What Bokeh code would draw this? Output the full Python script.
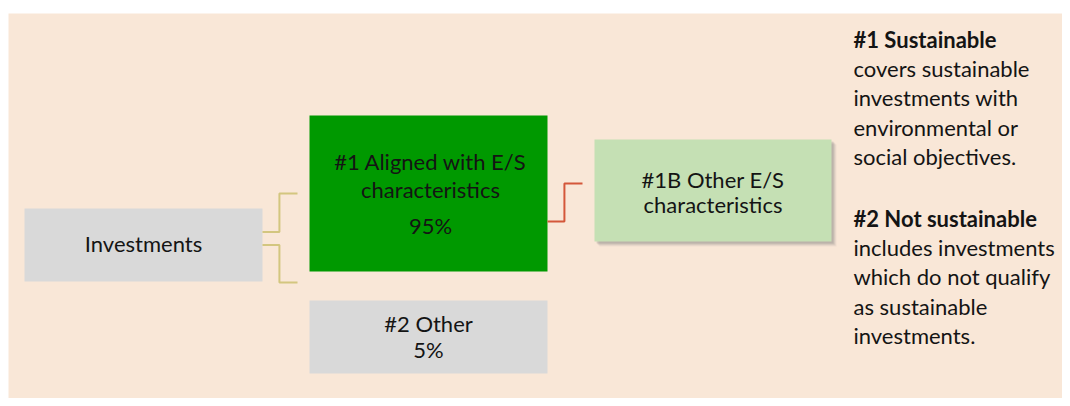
from bokeh.plotting import figure
from bokeh.models import Range1d
from bokeh.core.properties import value
from bokeh.embed import file_html
from bokeh.resources import INLINE

# ---------------- data ----------------
root_label = "Investments"
aligned_label = ["#1 Aligned with E/S", "characteristics"]
aligned_share = 95
other_label = "#2 Other"
other_share = 5
other_es_label = ["#1B Other E/S", "characteristics"]
note_heads = ["#1 Sustainable", "#2 Not sustainable"]
note_bodies = [
    ["covers sustainable", "investments with", "environmental or", "social objectives."],
    ["includes investments", "which do not qualify", "as sustainable", "investments."],
]

# ---------------- layout (image pixel coords, y downwards) ----------------
W, H = 1062, 398
BG = (8, 13, W, H)
BOX = {
    "root": (24, 208, 262, 281),
    "aligned": (309, 115, 547, 271),
    "other": (309, 300, 547, 373),
    "other_es": (594, 139, 831, 241),
}
FONT = value("Lato")
FS = "22px"
TXT = "#141414"
DY = -8  # baseline correction

p = figure(width=W, height=H, x_range=Range1d(0, W), y_range=Range1d(H, 0),
           output_backend="svg", toolbar_location=None, min_border=0,
           x_axis_type=None, y_axis_type=None, outline_line_color=None,
           background_fill_color="white", border_fill_color="white")
p.grid.visible = False

# background panel
p.quad(left=[BG[0]], right=[BG[2]], top=[BG[1]], bottom=[BG[3]],
       fill_color="#F9E7D7", line_color=None)

# soft shadow for the light green box
l, t, r, b = BOX["other_es"]
for d, a in [(5, 0.08), (4, 0.12), (3, 0.18), (2, 0.2)]:
    p.quad(left=[l + d], right=[r + d], top=[t + d], bottom=[b + d],
           fill_color="#7a7a7a", fill_alpha=a, line_color=None)

colors = {"root": "#D9D9D9", "aligned": "#009900", "other": "#D9D9D9", "other_es": "#C5E0B4"}
for k, (l, t, r, b) in BOX.items():
    p.quad(left=[l], right=[r], top=[t], bottom=[b], fill_color=colors[k], line_color=None)

# connectors derived from box edges
rl, rt, rr, rb = BOX["root"]
al, at, ar, ab = BOX["aligned"]
ol, ot, orr, ob = BOX["other"]
rc = (rt + rb) / 2
gap = al - rr
ex = rr + gap * 0.36
end = al - 12
p.line([rr, ex, ex, end], [rc - 13, rc - 13, at + 78, at + 78], line_color="#D3C67F", line_width=2)
p.line([rr, ex, ex, end], [rc, rc, ab + 11, ab + 11], line_color="#D3C67F", line_width=2)

el, et, er, eb = BOX["other_es"]
gap2 = el - ar
ex2 = ar + gap2 * 0.36
p.line([ar, ex2, ex2, el - 12], [at + 106, at + 106, at + 68, at + 68],
       line_color="#D4573A", line_width=2)

def txt(x, y, s, align="center", style="normal"):
    p.text(x=x, y=[v + DY for v in y], text=s, text_align=align, text_baseline="alphabetic",
           text_font=FONT, text_font_size=FS, text_color=TXT, text_font_style=style)

txt([(rl + rr) / 2], [251], [root_label])
cx = (al + ar) / 2 + 2
txt([cx, cx], [169, 197], aligned_label)
txt([cx], [233], [f"{aligned_share}%"])
txt([(ol + orr) / 2, (ol + orr) / 2], [331, 357], [other_label, f"{other_share}%"])
ecx = (el + er) / 2
txt([ecx, ecx], [187, 212], other_es_label)

nx = 853
y0 = 47
lh = 29.2
txt([nx], [y0], [note_heads[0]], align="left", style="bold")
txt([nx] * 4, [y0 + lh * (i + 1) for i in range(4)], note_bodies[0], align="left")
y1 = 226
txt([nx], [y1], [note_heads[1]], align="left", style="bold")
txt([nx] * 4, [y1 + lh * (i + 1) for i in range(4)], note_bodies[1], align="left")

open("out.html", "w").write(file_html(p, INLINE))
